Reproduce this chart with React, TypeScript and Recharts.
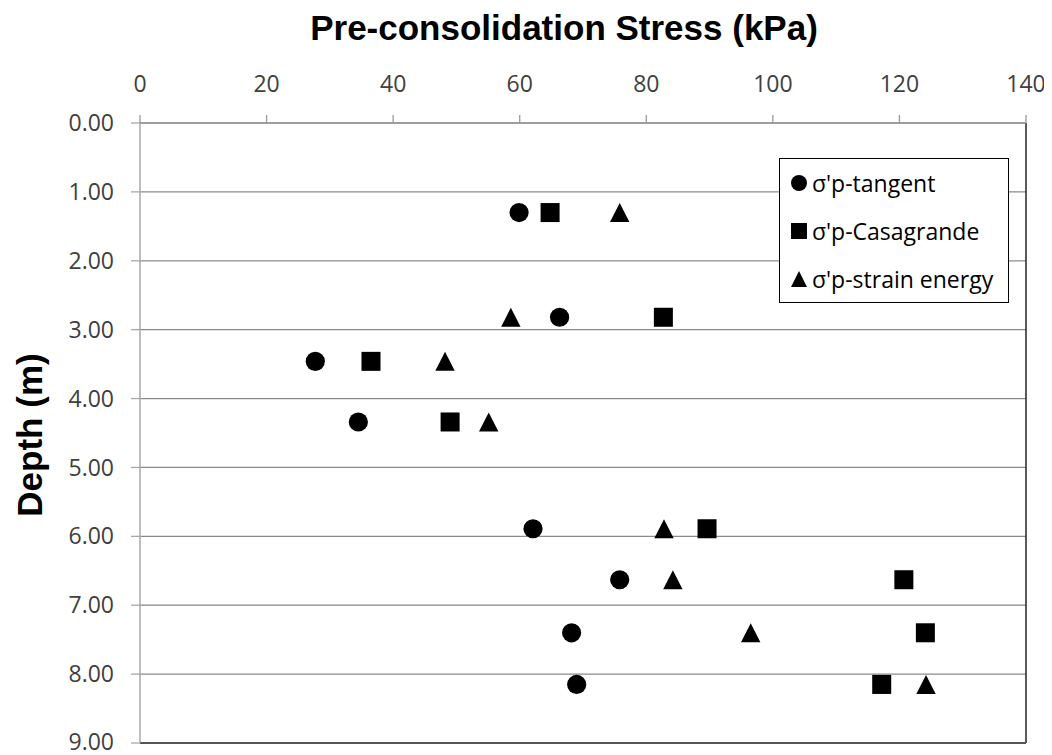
import React from "react";
import {
  ScatterChart,
  Scatter,
  XAxis,
  YAxis,
  CartesianGrid,
  ReferenceLine,
} from "recharts";

const depths = [1.3, 2.82, 3.46, 4.34, 5.89, 6.63, 7.4, 8.15];
const tangent = [59.9, 66.3, 27.7, 34.5, 62.1, 75.8, 68.2, 69.0];
const casagrande = [64.8, 82.7, 36.5, 49.0, 89.6, 120.7, 124.1, 117.2];
const strainEnergy = [75.8, 58.6, 48.2, 55.1, 82.8, 84.2, 96.5, 124.2];

const xTicks = [0, 20, 40, 60, 80, 100, 120, 140];
const yTicks = [0, 1, 2, 3, 4, 5, 6, 7, 8, 9];

const seriesNames = ["σ'p-tangent", "σ'p-Casagrande", "σ'p-strain energy"];

const toPoints = (vals: number[]) =>
  vals.map((v, i) => ({ stress: v, depth: depths[i] }));

const tangentData = toPoints(tangent);
const casagrandeData = toPoints(casagrande);
const strainData = toPoints(strainEnergy);

const CircleShape = (p: any) => (
  <circle cx={p.cx} cy={p.cy} r={9.6} fill="#000" />
);
const SquareShape = (p: any) => (
  <rect x={p.cx - 9.5} y={p.cy - 9.5} width={19} height={19} fill="#000" />
);
const TriangleShape = (p: any) => (
  <polygon
    points={`${p.cx},${p.cy - 9.5} ${p.cx + 9.7},${p.cy + 9.5} ${p.cx - 9.7},${p.cy + 9.5}`}
    fill="#000"
  />
);

const LegendBox = () => {
  const icons = [
    <circle cx={8} cy={8} r={8} fill="#000" />,
    <rect x={0} y={0} width={16} height={16} fill="#000" />,
    <polygon points="8,0 16,16 0,16" fill="#000" />,
  ];
  return (
    <div
      style={{
        position: "absolute",
        left: 771,
        top: 150,
        width: 230,
        height: 145,
        border: "1.5px solid #000",
        background: "#fff",
        boxSizing: "border-box",
        fontFamily: "'Open Sans', sans-serif",
        fontSize: 23,
        color: "#000",
      }}
    >
      {seriesNames.map((n, i) => (
        <div
          key={n}
          style={{
            position: "absolute",
            left: 11,
            top: 24 + i * 48 - 16,
            height: 32,
            display: "flex",
            alignItems: "center",
            whiteSpace: "nowrap",
          }}
        >
          <svg width={16} height={16} style={{ marginRight: 5 }}>
            {icons[i]}
          </svg>
          <span>{n}</span>
        </div>
      ))}
    </div>
  );
};

export default function App() {
  const W = 1044;
  const H = 747;
  return (
    <div style={{ width: W, height: H, position: "relative", background: "#fff" }}>
      <ScatterChart
        width={W}
        height={H}
        margin={{ top: 55, right: 26, bottom: 12, left: 52 }}
      >
        <CartesianGrid vertical={false} stroke="#8a8a8a" strokeWidth={1.3} />
        <XAxis
          type="number"
          dataKey="stress"
          orientation="top"
          domain={[0, 140]}
          ticks={xTicks}
          height={60}
          tickSize={8}
          tickMargin={23}
          axisLine={{ stroke: "#9a9a9a", strokeWidth: 1.3 }}
          tickLine={{ stroke: "#9a9a9a", strokeWidth: 1.3 }}
          tick={{ fill: "#404040", fontSize: 23, fontFamily: "'Open Sans', sans-serif" }}
          allowDataOverflow
        />
        <YAxis
          type="number"
          dataKey="depth"
          reversed
          domain={[0, 9]}
          ticks={yTicks}
          width={80}
          tickSize={9}
          tickMargin={17}
          tickFormatter={(v: number) => v.toFixed(2)}
          axisLine={{ stroke: "#a8a8a8", strokeWidth: 1.5 }}
          tickLine={{ stroke: "#a8a8a8", strokeWidth: 1.3 }}
          tick={{ fill: "#404040", fontSize: 23, fontFamily: "'Open Sans', sans-serif" }}
          allowDataOverflow
        />
        <ReferenceLine x={140} stroke="#303030" strokeWidth={1.6} />
        <ReferenceLine y={9} stroke="#555555" strokeWidth={1.8} />
        <Scatter
          name={seriesNames[0]}
          data={tangentData}
          shape={CircleShape}
          isAnimationActive={false}
        />
        <Scatter
          name={seriesNames[1]}
          data={casagrandeData}
          shape={SquareShape}
          isAnimationActive={false}
        />
        <Scatter
          name={seriesNames[2]}
          data={strainData}
          shape={TriangleShape}
          isAnimationActive={false}
        />
        <text
          x={556}
          y={32}
          textAnchor="middle"
          fontFamily="'Liberation Sans', Arial, sans-serif"
          fontWeight="bold"
          fontSize={35}
          fill="#000"
        >
          Pre-consolidation Stress (kPa)
        </text>
        <text
          x={0}
          y={0}
          transform="translate(34, 427) rotate(-90)"
          textAnchor="middle"
          fontFamily="'Liberation Sans', Arial, sans-serif"
          fontWeight="bold"
          fontSize={35}
          fill="#000"
        >
          Depth (m)
        </text>
      </ScatterChart>
      <LegendBox />
    </div>
  );
}
